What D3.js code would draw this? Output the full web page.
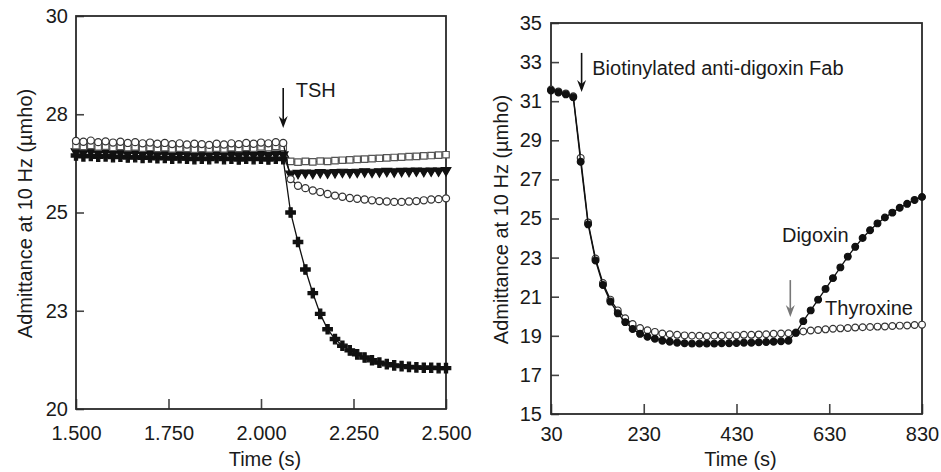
<!DOCTYPE html>
<html>
<head>
<meta charset="utf-8">
<script src="https://cdn.jsdelivr.net/npm/d3@7"></script>
<style>
  html, body { margin: 0; padding: 0; background: #fff; }
  svg { display: block; font-family: "Liberation Sans", Arial, Helvetica, sans-serif; }
</style>
</head>
<body>
<div id="chart"></div>
<script>
// ---- left panel: TSH response (time in s, admittance in µmho)
const leftTime = [
  1.50, 1.52, 1.54, 1.56, 1.58, 1.60, 1.62, 1.64, 1.66, 1.68,
  1.70, 1.72, 1.74, 1.76, 1.78, 1.80, 1.82, 1.84, 1.86, 1.88,
  1.90, 1.92, 1.94, 1.96, 1.98, 2.00, 2.02, 2.04, 2.06, 2.08,
  2.10, 2.12, 2.14, 2.16, 2.18, 2.20, 2.22, 2.24, 2.26, 2.28,
  2.30, 2.32, 2.34, 2.36, 2.38, 2.40, 2.42, 2.44, 2.46, 2.48, 2.50
];
const tshSquares = [
  26.70, 26.68, 26.71, 26.67, 26.69, 26.66, 26.68, 26.65, 26.67, 26.64,
  26.66, 26.63, 26.65, 26.62, 26.64, 26.63, 26.61, 26.63, 26.62, 26.64,
  26.62, 26.65, 26.63, 26.66, 26.64, 26.67, 26.65, 26.68, 26.66, 26.30,
  26.28, 26.30, 26.29, 26.31, 26.30, 26.32, 26.33, 26.34, 26.35, 26.36,
  26.37, 26.38, 26.39, 26.40, 26.41, 26.42, 26.43, 26.44, 26.45, 26.46, 26.47
];
const tshTriangles = [
  26.55, 26.53, 26.56, 26.52, 26.54, 26.51, 26.53, 26.50, 26.52, 26.49,
  26.51, 26.48, 26.50, 26.47, 26.49, 26.48, 26.46, 26.48, 26.47, 26.49,
  26.47, 26.48, 26.46, 26.49, 26.47, 26.48, 26.46, 26.49, 26.47, 25.98,
  26.00, 26.01, 26.00, 26.02, 26.01, 26.02, 26.03, 26.02, 26.03, 26.04,
  26.03, 26.04, 26.05, 26.04, 26.05, 26.05, 26.06, 26.05, 26.06, 26.06, 26.07
];
const tshCircles = [
  26.82, 26.80, 26.83, 26.79, 26.81, 26.78, 26.80, 26.77, 26.79, 26.76,
  26.78, 26.75, 26.77, 26.74, 26.76, 26.73, 26.75, 26.74, 26.72, 26.75,
  26.73, 26.76, 26.74, 26.77, 26.75, 26.78, 26.76, 26.79, 26.77, 25.85,
  25.68, 25.62, 25.56, 25.52, 25.47, 25.43, 25.40, 25.37, 25.35, 25.33,
  25.31, 25.29, 25.28, 25.27, 25.27, 25.28, 25.29, 25.31, 25.33, 25.34, 25.36
];
const tshPlus = [
  26.45, 26.43, 26.44, 26.42, 26.43, 26.41, 26.42, 26.40, 26.41, 26.39,
  26.40, 26.38, 26.39, 26.37, 26.38, 26.37, 26.36, 26.37, 26.36, 26.38,
  26.36, 26.37, 26.35, 26.37, 26.36, 26.37, 26.35, 26.37, 26.36, 25.00,
  24.25, 23.55, 22.95, 22.42, 22.03, 21.78, 21.61, 21.49, 21.39, 21.31,
  21.24, 21.18, 21.14, 21.11, 21.09, 21.07, 21.06, 21.05, 21.05, 21.04, 21.04
];
const leftXTicks = [1.5, 1.75, 2.0, 2.25, 2.5];
const leftXLabels = ["1.500", "1.750", "2.000", "2.250", "2.500"];
const leftYTicks = [20, 22.5, 25, 27.5, 30];
const leftYLabels = ["20", "23", "25", "28", "30"];

// ---- right panel: digoxin / thyroxine
const rightTime = [
  30, 46, 62, 78, 94, 110, 126, 142, 158, 174,
  190, 206, 222, 238, 254, 270, 286, 302, 318, 334,
  350, 366, 382, 398, 414, 430, 446, 462, 478, 494,
  510, 526, 542, 558, 574, 590, 606, 622, 638, 654,
  670, 686, 702, 718, 734, 750, 766, 782, 798, 814, 830
];
const digoxin = [
  31.55, 31.45, 31.35, 31.20, 27.90, 24.70, 22.85, 21.60, 20.75, 20.15,
  19.70, 19.35, 19.10, 18.95, 18.85, 18.75, 18.70, 18.65, 18.62, 18.60,
  18.60, 18.60, 18.60, 18.62, 18.62, 18.63, 18.65, 18.65, 18.67, 18.68,
  18.70, 18.72, 18.75, 19.15, 19.75, 20.30, 20.85, 21.40, 21.95, 22.50,
  23.05, 23.55, 24.00, 24.40, 24.75, 25.05, 25.30, 25.55, 25.75, 25.95, 26.10
];
const thyroxine = [
  31.60, 31.50, 31.40, 31.25, 28.10, 24.80, 22.95, 21.70, 20.85, 20.30,
  19.90, 19.60, 19.40, 19.28, 19.20, 19.12, 19.08, 19.05, 19.02, 19.00,
  19.00, 18.98, 19.00, 19.00, 19.02, 19.02, 19.05, 19.05, 19.07, 19.08,
  19.10, 19.12, 19.13, 19.17, 19.22, 19.27, 19.30, 19.33, 19.36, 19.38,
  19.40, 19.42, 19.44, 19.45, 19.47, 19.48, 19.50, 19.52, 19.53, 19.55, 19.57
];
const rightXTicks = [30, 230, 430, 630, 830];
const rightYTicks = [15, 17, 19, 21, 23, 25, 27, 29, 31, 33, 35];

const W = 941, H = 472;
const FONT = 20;
const INK = "#1a1a1a";

const svg = d3.select("#chart").append("svg")
  .attr("width", W).attr("height", H)
  .attr("viewBox", `0 0 ${W} ${H}`);

svg.append("rect").attr("width", W).attr("height", H).attr("fill", "#fff");

function panel(opts) {
  const { x0, x1, y0, y1, xDomain, yDomain, xTicks, xLabels, yTicks, yLabels,
          xPad, yPad, yTitleX, xTitleY } = opts;
  const x = d3.scaleLinear().domain(xDomain).range([x0, x1]);
  const y = d3.scaleLinear().domain(yDomain).range([y1, y0]);
  const g = svg.append("g");

  const ax = d3.axisBottom(x).tickValues(xTicks)
    .tickFormat((d, i) => xLabels[i])
    .tickSizeInner(-10).tickSizeOuter(0).tickPadding(xPad);
  const xg = g.append("g").attr("transform", `translate(0,${y1})`).call(ax);

  const ay = d3.axisLeft(y).tickValues(yTicks)
    .tickFormat((d, i) => yLabels[i])
    .tickSizeInner(-8).tickSizeOuter(0).tickPadding(yPad);
  const yg = g.append("g").attr("transform", `translate(${x0},0)`).call(ay);

  [xg, yg].forEach(a => {
    a.select(".domain").remove();
    a.selectAll(".tick line").attr("stroke", "#444").attr("stroke-width", 1.6);
    a.selectAll(".tick text").attr("fill", INK).attr("font-size", FONT)
      .attr("font-family", '"Liberation Sans", Arial, sans-serif');
  });

  // frame
  g.append("rect")
    .attr("x", x0).attr("y", y0).attr("width", x1 - x0).attr("height", y1 - y0)
    .attr("fill", "none").attr("stroke", "#2a2a2a").attr("stroke-width", 1.8);

  g.append("text")
    .attr("transform", `translate(${yTitleX},${(y0 + y1) / 2 + 1}) rotate(-90)`)
    .attr("text-anchor", "middle").attr("font-size", FONT).attr("fill", INK)
    .text("Admittance at 10 Hz (\u00b5mho)");

  g.append("text")
    .attr("x", (x0 + x1) / 2 + 4).attr("y", xTitleY)
    .attr("text-anchor", "middle").attr("font-size", FONT).attr("fill", INK)
    .text("Time (s)");

  return { g, x, y };
}

function series(p, xs, ys, symbolType, size, fill, stroke, rotate) {
  const pts = xs.map((t, i) => [t, ys[i]]);
  p.g.append("path")
    .datum(pts)
    .attr("fill", "none").attr("stroke", "#111").attr("stroke-width", 1.3)
    .attr("d", d3.line().x(d => p.x(d[0])).y(d => p.y(d[1])));
  const sym = d3.symbol().type(symbolType).size(size);
  p.g.append("g").selectAll("path")
    .data(pts).join("path")
    .attr("transform", d => `translate(${p.x(d[0])},${p.y(d[1])})${rotate ? " rotate(180)" : ""}`)
    .attr("d", sym)
    .attr("fill", fill)
    .attr("stroke", stroke)
    .attr("stroke-width", 1.2);
}

function arrow(p, t, yTop, yBot, color) {
  const xa = p.x(t), ya = p.y(yTop), yb = p.y(yBot);
  p.g.append("line")
    .attr("x1", xa).attr("x2", xa).attr("y1", ya).attr("y2", yb - 3)
    .attr("stroke", color).attr("stroke-width", 1.6);
  p.g.append("path")
    .attr("d", `M${xa - 4.5},${yb - 12} L${xa},${yb} L${xa + 4.5},${yb - 12} L${xa},${yb - 8} Z`)
    .attr("fill", color);
}

function label(p, t, v, txt) {
  p.g.append("text")
    .attr("x", p.x(t)).attr("y", p.y(v))
    .attr("font-size", FONT).attr("fill", INK)
    .text(txt);
}

// ---- left
const L = panel({
  x0: 76, x1: 446, y0: 16, y1: 409,
  xDomain: [1.5, 2.5], yDomain: [20, 30],
  xTicks: leftXTicks, xLabels: leftXLabels,
  yTicks: leftYTicks, yLabels: leftYLabels,
  xPad: 17, yPad: 8, yTitleX: 32, xTitleY: 466
});
series(L, leftTime, tshPlus, d3.symbolCross, 50, "#111", "#111", false);
series(L, leftTime, tshTriangles, d3.symbolTriangle, 40, "#111", "#111", true);
series(L, leftTime, tshSquares, d3.symbolSquare, 42, "#fff", "#555", false);
series(L, leftTime, tshCircles, d3.symbolCircle, 40, "#fff", "#333", false);
arrow(L, 2.06, 28.17, 27.15, "#111");
label(L, 2.094, 27.95, "TSH");

// ---- right
const R = panel({
  x0: 551, x1: 922, y0: 23, y1: 414,
  xDomain: [30, 830], yDomain: [15, 35],
  xTicks: rightXTicks, xLabels: rightXTicks.map(String),
  yTicks: rightYTicks, yLabels: rightYTicks.map(String),
  xPad: 13, yPad: 9, yTitleX: 508, xTitleY: 466
});
series(R, rightTime, thyroxine, d3.symbolCircle, 36, "#fff", "#333", false);
series(R, rightTime, digoxin, d3.symbolCircle, 36, "#111", "#111", false);
arrow(R, 96, 33.47, 31.47, "#111");
arrow(R, 546, 21.85, 19.96, "#777");
label(R, 119, 32.34, "Biotinylated anti-digoxin Fab");
label(R, 528, 23.8, "Digoxin");
label(R, 621, 20.06, "Thyroxine");
</script>
</body>
</html>
